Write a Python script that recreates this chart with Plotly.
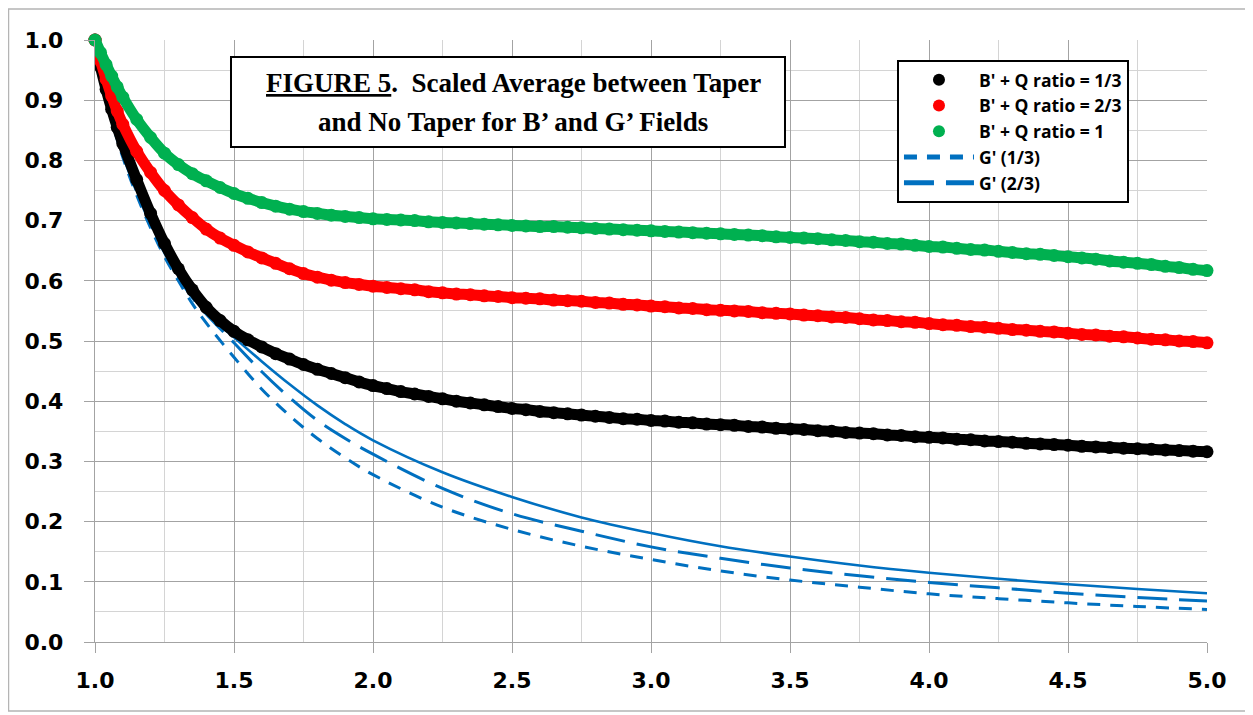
import plotly.graph_objs as go

# x values of the B' + Q series (dense dotted series)
x_b = [1.00, 1.02, 1.04, 1.06, 1.08, 1.10,
       1.15, 1.20, 1.25, 1.30, 1.35, 1.40, 1.45, 1.50, 1.55, 1.60,
       1.65, 1.70, 1.75, 1.80, 1.85, 1.90, 1.95, 2.00, 2.05, 2.10,
       2.15, 2.20, 2.25, 2.30, 2.35, 2.40, 2.45, 2.50, 2.55, 2.60,
       2.65, 2.70, 2.75, 2.80, 2.85, 2.90, 2.95, 3.00, 3.05, 3.10,
       3.15, 3.20, 3.25, 3.30, 3.35, 3.40, 3.45, 3.50, 3.55, 3.60,
       3.65, 3.70, 3.75, 3.80, 3.85, 3.90, 3.95, 4.00, 4.05, 4.10,
       4.15, 4.20, 4.25, 4.30, 4.35, 4.40, 4.45, 4.50, 4.55, 4.60,
       4.65, 4.70, 4.75, 4.80, 4.85, 4.90, 4.95, 5.00]

bq_13 = [1.000, 0.955, 0.918, 0.885, 0.855, 0.828,
         0.768, 0.712, 0.662, 0.620, 0.585, 0.556, 0.534, 0.516, 0.502, 0.490,
         0.479, 0.470, 0.461, 0.453, 0.446, 0.439, 0.432, 0.426, 0.421, 0.416,
         0.412, 0.408, 0.404, 0.400, 0.397, 0.394, 0.391, 0.388, 0.386, 0.383,
         0.381, 0.379, 0.377, 0.375, 0.373, 0.371, 0.370, 0.368, 0.367, 0.365,
         0.364, 0.362, 0.361, 0.360, 0.358, 0.357, 0.355, 0.354, 0.353, 0.351,
         0.350, 0.348, 0.347, 0.346, 0.344, 0.343, 0.341, 0.340, 0.339, 0.337,
         0.336, 0.334, 0.333, 0.332, 0.330, 0.329, 0.328, 0.327, 0.325, 0.324,
         0.323, 0.322, 0.321, 0.320, 0.319, 0.318, 0.317, 0.316]

bq_23 = [1.000, 0.965, 0.935, 0.907, 0.882, 0.860,
         0.815, 0.780, 0.750, 0.726, 0.705, 0.686, 0.671, 0.659, 0.648, 0.638,
         0.629, 0.620, 0.612, 0.606, 0.601, 0.597, 0.594, 0.591, 0.589, 0.587,
         0.585, 0.582, 0.580, 0.578, 0.577, 0.575, 0.574, 0.572, 0.571, 0.570,
         0.568, 0.567, 0.566, 0.564, 0.563, 0.561, 0.560, 0.558, 0.557, 0.555,
         0.554, 0.552, 0.551, 0.550, 0.549, 0.547, 0.546, 0.545, 0.543, 0.542,
         0.540, 0.539, 0.537, 0.535, 0.534, 0.532, 0.531, 0.529, 0.527, 0.526,
         0.524, 0.523, 0.521, 0.519, 0.518, 0.516, 0.515, 0.513, 0.511, 0.510,
         0.508, 0.507, 0.505, 0.503, 0.502, 0.500, 0.499, 0.497]

bq_1 = [1.000, 0.979, 0.959, 0.940, 0.922, 0.905,
        0.868, 0.838, 0.812, 0.793, 0.778, 0.766, 0.755, 0.745, 0.737, 0.730,
        0.724, 0.719, 0.715, 0.712, 0.709, 0.707, 0.705, 0.703, 0.702, 0.701,
        0.700, 0.698, 0.697, 0.696, 0.695, 0.694, 0.693, 0.692, 0.691, 0.690,
        0.690, 0.689, 0.688, 0.687, 0.686, 0.685, 0.684, 0.683, 0.682, 0.681,
        0.680, 0.679, 0.678, 0.677, 0.676, 0.675, 0.673, 0.672, 0.671, 0.670,
        0.668, 0.667, 0.665, 0.664, 0.662, 0.661, 0.659, 0.657, 0.656, 0.654,
        0.652, 0.651, 0.649, 0.647, 0.645, 0.644, 0.642, 0.640, 0.638, 0.636,
        0.633, 0.631, 0.629, 0.627, 0.624, 0.622, 0.619, 0.617]

# x values of the G' lines
x_g = [1.00, 1.05, 1.10, 1.15, 1.20, 1.25, 1.30, 1.35, 1.40, 1.50,
       1.60, 1.70, 1.80, 1.90, 2.00, 2.25, 2.50, 2.75, 3.00, 3.25,
       3.50, 3.75, 4.00, 4.25, 4.50, 4.75, 5.00]

g_13 = [1.000, 0.885, 0.805, 0.742, 0.688, 0.640, 0.600, 0.562, 0.530, 0.473,
        0.420, 0.376, 0.338, 0.306, 0.278, 0.224, 0.187, 0.159, 0.137, 0.118,
        0.103, 0.091, 0.080, 0.072, 0.065, 0.059, 0.054]

g_23 = [1.000, 0.888, 0.810, 0.748, 0.694, 0.647, 0.606, 0.572, 0.545, 0.497,
        0.449, 0.406, 0.368, 0.338, 0.312, 0.255, 0.213, 0.184, 0.158, 0.139,
        0.123, 0.110, 0.099, 0.090, 0.081, 0.074, 0.068]

g_1 = [1.000, 0.890, 0.815, 0.755, 0.702, 0.652, 0.612, 0.578, 0.548, 0.506,
       0.466, 0.428, 0.393, 0.362, 0.335, 0.282, 0.241, 0.207, 0.181, 0.159,
       0.142, 0.127, 0.115, 0.105, 0.096, 0.088, 0.081]

x_ticks = [1.0, 1.5, 2.0, 2.5, 3.0, 3.5, 4.0, 4.5, 5.0]
y_ticks = [0.0, 0.1, 0.2, 0.3, 0.4, 0.5, 0.6, 0.7, 0.8, 0.9, 1.0]

BLUE = '#0070C0'
GRID = '#a3a3a3'
MINOR = '#d4d4d4'

fig = go.Figure()

# G' curves (drawn under the dotted series)
fig.add_trace(go.Scatter(x=x_g, y=g_1, mode='lines', showlegend=False,
                         line=dict(color=BLUE, width=2.6, shape='spline'),
                         cliponaxis=False))
fig.add_trace(go.Scatter(x=x_g, y=g_13, mode='lines', name="G' (1/3)",
                         legendrank=4,
                         line=dict(color=BLUE, width=3, shape='spline',
                                   dash='13px,10px'),
                         cliponaxis=False))
fig.add_trace(go.Scatter(x=x_g, y=g_23, mode='lines', name="G' (2/3)",
                         legendrank=5,
                         line=dict(color=BLUE, width=3, shape='spline',
                                   dash='30px,12px'),
                         cliponaxis=False))

series = [
    (bq_13, '#000000', "B' + Q ratio = 1/3", 1),
    (bq_23, '#FF0000', "B' + Q ratio = 2/3", 2),
    (bq_1, '#00B050', "B' + Q ratio = 1", 3),
]
for vals, col, nm, rk in series:
    # thick line under the dots so the steep part stays continuous
    fig.add_trace(go.Scatter(x=x_b, y=vals, mode='lines', showlegend=False,
                             line=dict(color=col, width=11, shape='spline'),
                             hoverinfo='skip', cliponaxis=False))
    fig.add_trace(go.Scatter(x=x_b, y=vals, mode='markers', name=nm,
                             legendrank=rk,
                             marker=dict(color=col, size=13),
                             cliponaxis=False))

# page body has an 8px margin, so the figure is a bit smaller than the window
fig.update_layout(
    width=1245, height=707,
    margin=dict(l=87, r=46, t=32, b=73),
    paper_bgcolor='white', plot_bgcolor='white',
    font=dict(family='DejaVu Sans', color='black'),
    xaxis=dict(range=[1, 5], tickvals=x_ticks, tickformat='.1f',
               showgrid=True, gridcolor=GRID, gridwidth=1.3,
               minor=dict(dtick=0.25, showgrid=True, gridcolor=MINOR,
                          gridwidth=1.3),
               ticks='outside', ticklen=10, tickcolor=GRID, tickwidth=1.3,
               showline=True, linecolor=GRID, linewidth=1.3,
               zeroline=False, ticklabelstandoff=8,
               tickfont=dict(family='DejaVu Sans', size=22, weight='bold')),
    yaxis=dict(range=[0, 1], tickvals=y_ticks, tickformat='.1f',
               showgrid=True, gridcolor=GRID, gridwidth=1.3,
               minor=dict(dtick=0.05, showgrid=True, gridcolor=MINOR,
                          gridwidth=1.3),
               ticks='outside', ticklen=10, tickcolor=GRID, tickwidth=1.3,
               showline=True, linecolor=GRID, linewidth=1.3,
               zeroline=False, ticklabelstandoff=16,
               tickfont=dict(family='DejaVu Sans', size=22, weight='bold')),
    legend=dict(x=0.7212, y=0.9668, xanchor='left', yanchor='top',
                bgcolor='white', bordercolor='black', borderwidth=2,
                itemsizing='constant', itemwidth=70,
                font=dict(family='Open Sans', size=17.5, weight='bold')),
    showlegend=True,
)

# title box
fig.add_shape(type='rect', xref='paper', yref='paper',
              x0=0.1223, x1=0.6205, y0=0.8223, y1=0.9718,
              line=dict(color='black', width=2), fillcolor='white',
              layer='above')
fig.add_annotation(xref='paper', yref='paper', x=0.3759, y=0.9286,
                   text='<u>FIGURE 5</u>.\u00a0 Scaled Average between Taper',
                   showarrow=False, xanchor='center', yanchor='middle',
                   font=dict(family='Liberation Serif', size=27,
                             weight='bold', color='black'))
fig.add_annotation(xref='paper', yref='paper', x=0.3759, y=0.8638,
                   text='and No Taper for B\u2019 and G\u2019 Fields',
                   showarrow=False, xanchor='center', yanchor='middle',
                   font=dict(family='Liberation Serif', size=27,
                             weight='bold', color='black'))

# outer chart frame
fig.add_shape(type='rect', xref='paper', yref='paper',
              x0=-0.0778, x1=1.0373, y0=-0.1146, y1=1.0515,
              line=dict(color='#b4b4b4', width=1.5), layer='below')

fig.write_html("out.html")
